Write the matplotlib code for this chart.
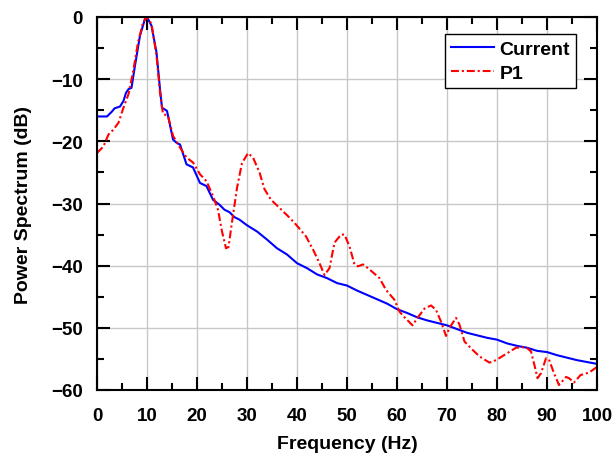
#!/usr/bin/env python3
"""Power spectrum of current vs P1."""

import matplotlib
matplotlib.use("Agg")
import matplotlib.pyplot as plt
from matplotlib.ticker import MultipleLocator

current_freq = [0, 2, 3, 3.5, 4.6, 5.3, 5.8, 6.3, 6.9, 7.6, 8.6, 9.6, 10.0, 10.9,
                11.9, 12.6, 13.0, 14.0, 15.2, 16.0, 16.6, 17.9, 19.2, 20.6, 21.9,
                23.2, 24.5, 25.5, 26.5, 27.5, 28.5, 30, 32, 34, 36, 38, 40, 42, 44,
                46, 48, 50, 52, 54, 56, 58, 60, 62, 64, 66, 68, 70, 72, 74, 76, 78,
                80, 82, 84, 86, 88, 90, 92, 94, 96, 98, 100]
current_db = [-16.0, -16.0, -15.2, -14.7, -14.4, -13.5, -12.2, -11.6, -11.4, -7.8,
              -3.0, -0.3, 0.0, -1.4, -5.7, -11.6, -14.6, -15.1, -19.7, -20.3, -20.5,
              -23.7, -24.2, -26.7, -27.2, -29.4, -30.2, -31.0, -31.4, -32.2, -32.6,
              -33.5, -34.5, -35.8, -37.2, -38.2, -39.6, -40.4, -41.4, -42.0, -42.8,
              -43.2, -44.0, -44.7, -45.4, -46.1, -47.0, -47.6, -48.3, -48.8, -49.2,
              -49.6, -50.2, -50.8, -51.2, -51.6, -51.9, -52.5, -52.9, -53.2, -53.7,
              -53.9, -54.4, -54.8, -55.2, -55.5, -55.8]

p1_freq = [0, 1.3, 2.3, 3.3, 4.3, 5.2, 6.3, 7.2, 8.2, 9.2, 9.9, 10.9, 11.9, 12.6,
           13.2, 14.2, 15.2, 16.6, 17.9, 19.2, 20.6, 21.9, 23.2, 24.2, 25.0, 25.8,
           26.3, 27.0, 28.0, 29.0, 30.2, 31.2, 32.5, 33.5, 34.8, 36.5, 37.9, 39.5,
           41.8, 43.2, 44.5, 45.5, 46.5, 47.5, 48.8, 49.5, 50.5, 51.5, 52.2, 53.2,
           54.5, 56.5, 57.8, 59.5, 60.5, 61.5, 63.1, 64.1, 65.5, 66.8, 67.8, 68.8,
           69.8, 70.5, 71.8, 72.5, 73.5, 74.8, 76.5, 78.5, 79.8, 81.8, 83.8, 85.8,
           86.8, 87.4, 88.1, 88.8, 89.8, 90.4, 91.4, 92.4, 93.8, 94.4, 95.4, 96.7,
           98.4, 100]
p1_db = [-21.9, -20.8, -18.9, -18.1, -17.0, -14.8, -12.4, -8.9, -4.1, -0.9, 0.0,
         -1.1, -6.2, -12.1, -15.6, -15.9, -19.1, -21.0, -22.6, -23.4, -25.3, -26.4,
         -28.8, -31.0, -34.5, -37.2, -37.0, -33.0, -27.5, -23.5, -21.9, -22.6, -25.0,
         -27.7, -29.4, -30.7, -31.8, -33.1, -35.3, -37.4, -39.6, -41.5, -40.4, -36.3,
         -35.0, -35.0, -36.9, -39.8, -40.1, -39.8, -40.6, -42.0, -43.9, -45.5, -47.4,
         -48.3, -49.6, -48.4, -46.9, -46.4, -47.1, -49.0, -51.3, -50.0, -48.4, -49.5,
         -52.2, -53.3, -54.6, -55.6, -55.2, -54.2, -53.2, -53.1, -53.8, -55.7, -58.1,
         -57.3, -54.9, -55.1, -57.3, -59.2, -57.9, -58.1, -58.8, -57.6, -57.2, -56.3]

plt.rcParams["font.family"] = ["Liberation Sans", "DejaVu Sans"]
plt.rcParams["font.weight"] = "bold"

fig = plt.figure(figsize=(6.14, 4.6), dpi=100)
ax = fig.add_axes([97 / 614, 69 / 460, 500 / 614, 373 / 460])

ax.plot(current_freq, current_db, color="#0000ff", linewidth=1.5, label="Current")
ax.plot(p1_freq, p1_db, color="#ff0000", linewidth=1.5,
        linestyle=(0, (3.8, 1.4, 1.0, 1.4)), label="P1")

ax.set_xlim(0, 100)
ax.set_ylim(-60, 0)
ax.xaxis.set_major_locator(MultipleLocator(10))
ax.xaxis.set_minor_locator(MultipleLocator(5))
ax.yaxis.set_major_locator(MultipleLocator(10))
ax.yaxis.set_minor_locator(MultipleLocator(5))
ax.tick_params(which="both", direction="in", top=True, right=True, width=1.5,
               labelsize=13.5)
ax.tick_params(axis="x", pad=12)
ax.tick_params(axis="y", pad=10)
ax.tick_params(which="major", length=9.5)
ax.tick_params(which="minor", length=5)
for spine in ax.spines.values():
    spine.set_linewidth(1.5)
ax.grid(True, which="major", color="#c8c8c8", linewidth=1.0)
ax.set_axisbelow(True)

ax.set_xlabel("Frequency (Hz)", fontsize=14, fontweight="bold", labelpad=8)
ax.set_ylabel("Power Spectrum (dB)", fontsize=14, fontweight="bold", labelpad=14)

leg = ax.legend(loc="upper right", bbox_to_anchor=(0.958, 0.954), borderaxespad=0,
                fontsize=14, frameon=True, fancybox=False, framealpha=1,
                edgecolor="black", handlelength=2.2, handletextpad=0.3,
                labelspacing=0.35, borderpad=0.3)
leg.get_frame().set_linewidth(1.0)
for txt in leg.get_texts():
    txt.set_fontweight("bold")

fig.savefig("out.png", dpi=100)
